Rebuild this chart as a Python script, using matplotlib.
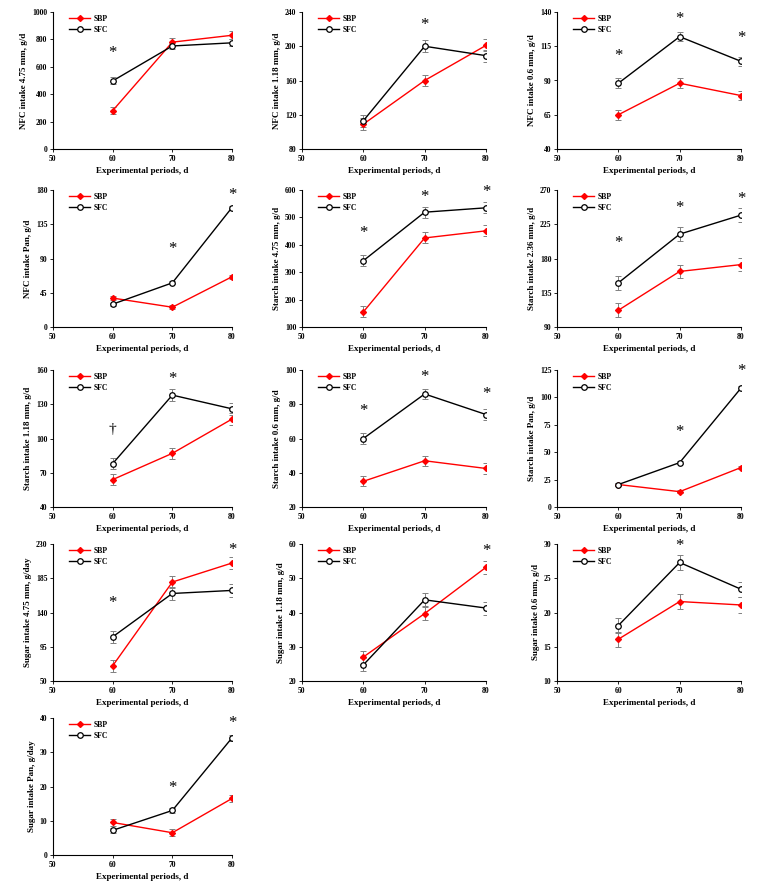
import numpy as np
import matplotlib.pyplot as plt

plt.rcParams['font.family'] = ['Liberation Serif', 'DejaVu Serif']
plt.rcParams['font.weight'] = 'bold'

# Periodos experimentales (eje x)
dias = [60, 70, 80]

# Etiquetas de cada panel
etiquetas = ['NFC intake 4.75 mm, g/d', 'NFC intake 1.18 mm, g/d', 'NFC intake 0.6 mm, g/d',
             'NFC intake Pan, g/d', 'Starch intake 4.75 mm, g/d', 'Starch intake 2.36 mm, g/d',
             'Starch intake 1.18 mm, g/d', 'Starch intake 0.6 mm, g/d', 'Starch intake Pan, g/d',
             'Sugar intake 4.75 mm, g/day', 'Sugar intake 1.18 mm, g/d', 'Sugar intake 0.6 mm, g/d',
             'Sugar intake Pan, g/day']

# Valores SBP y SFC
sbp = [[280, 780, 830], [109, 160, 201], [65, 88, 79],
       [38, 26, 66], [155, 425, 451], [112, 163, 172],
       [64, 87, 117], [35, 47, 42.5], [20.5, 14, 36],
       [70, 180, 205], [27, 39.7, 53.2], [16.1, 21.6, 21.1],
       [9.5, 6.5, 16.5]]
sfc = [[497, 752, 775], [113, 200, 189], [88, 122, 104],
       [30, 58, 157], [342, 519, 535], [148, 212, 237],
       [78, 138, 126], [60, 86, 74], [20.5, 40.5, 108.5],
       [108, 165, 169], [24.7, 43.7, 41.3], [18.1, 27.3, 23.4],
       [7.2, 13, 34.2]]

# Error estandar
err_sbp = [28, 7, 3.5, 2.5, 20, 9, 5, 3, 1.5, 8, 1.9, 1.1, 1.0]
err_sfc = [25, 7, 3.5, 2.0, 20, 9, 5, 3, 1.5, 8, 1.9, 1.1, 0.8]

# Limites del eje y (min, max, paso)
ejes_y = [(0, 1000, 200), (80, 240, 40), (40, 140, 25),
          (0, 180, 45), (100, 600, 100), (90, 270, 45),
          (40, 160, 30), (20, 100, 20), (0, 125, 25),
          (50, 230, 45), (20, 60, 10), (10, 30, 5),
          (0, 40, 10)]

# Marcas de significancia: (dia, altura, simbolo)
marcas = [[(60, 700, '*')], [(70, 225, '*')], [(60, 108, '*'), (70, 135, '*'), (80, 121, '*')],
          [(70, 102, '*'), (80, 173, '*')], [(60, 443, '*'), (70, 575, '*'), (80, 593, '*')],
          [(60, 200, '*'), (70, 247, '*'), (80, 258, '*')],
          [(60, 108, '†'), (70, 152, '*')], [(60, 76, '*'), (70, 96, '*'), (80, 86, '*')],
          [(70, 68, '*'), (80, 124, '*')],
          [(60, 153, '*'), (80, 222, '*')], [(80, 58, '*')], [(70, 29.7, '*')],
          [(70, 19.5, '*'), (80, 38.5, '*')]]

W, H = 762, 893
fig = plt.figure(figsize=(W / 100, H / 100), dpi=100)

izq = [53, 302, 557]
anchos = [179, 184, 184]
arriba = [12, 190, 370, 544, 718]
alto = 137

for i in range(13):
    fila, col = divmod(i, 3)
    ax = fig.add_axes([izq[col] / W, 1 - (arriba[fila] + alto) / H, anchos[col] / W, alto / H])
    # barras de error en gris
    ax.errorbar(dias, sbp[i], yerr=err_sbp[i], fmt='none', ecolor='gray', elinewidth=0.7,
                capsize=2, capthick=0.7, zorder=2)
    ax.errorbar(dias, sfc[i], yerr=err_sfc[i], fmt='none', ecolor='gray', elinewidth=0.7,
                capsize=2, capthick=0.7, zorder=2)
    ax.plot(dias, sbp[i], color='red', lw=1.0, marker='D', ms=3, mfc='red', mec='red',
            label='SBP', zorder=3)
    ax.plot(dias, sfc[i], color='black', lw=1.0, marker='o', ms=4, mfc='white', mec='black',
            mew=0.9, label='SFC', zorder=4)
    ymin, ymax, paso = ejes_y[i]
    ax.set_ylim(ymin, ymax)
    ax.set_yticks(np.arange(ymin, ymax + paso / 2, paso))
    ax.set_xlim(50, 80)
    ax.set_xticks([50, 60, 70, 80])
    for d, h, s in marcas[i]:
        ax.text(d, h, s, ha='center', va='center', fontsize=12 if s == '*' else 11,
                fontweight='normal')
    ax.spines['top'].set_visible(False)
    ax.spines['right'].set_visible(False)
    ax.tick_params(labelsize=5.5, length=2, width=0.6, pad=2)
    for s in ['left', 'bottom']:
        ax.spines[s].set_linewidth(0.8)
    ax.set_ylabel(etiquetas[i], fontsize=6.5, fontweight='bold', labelpad=3)
    ax.set_xlabel('Experimental periods, d', fontsize=6.5, fontweight='bold', labelpad=3)
    ax.legend(loc='upper left', bbox_to_anchor=(0.05, 1.03), fontsize=5.5, frameon=False,
              handlelength=2.8, handletextpad=0.4, labelspacing=0.4)

fig.savefig('out.png', dpi=100)
